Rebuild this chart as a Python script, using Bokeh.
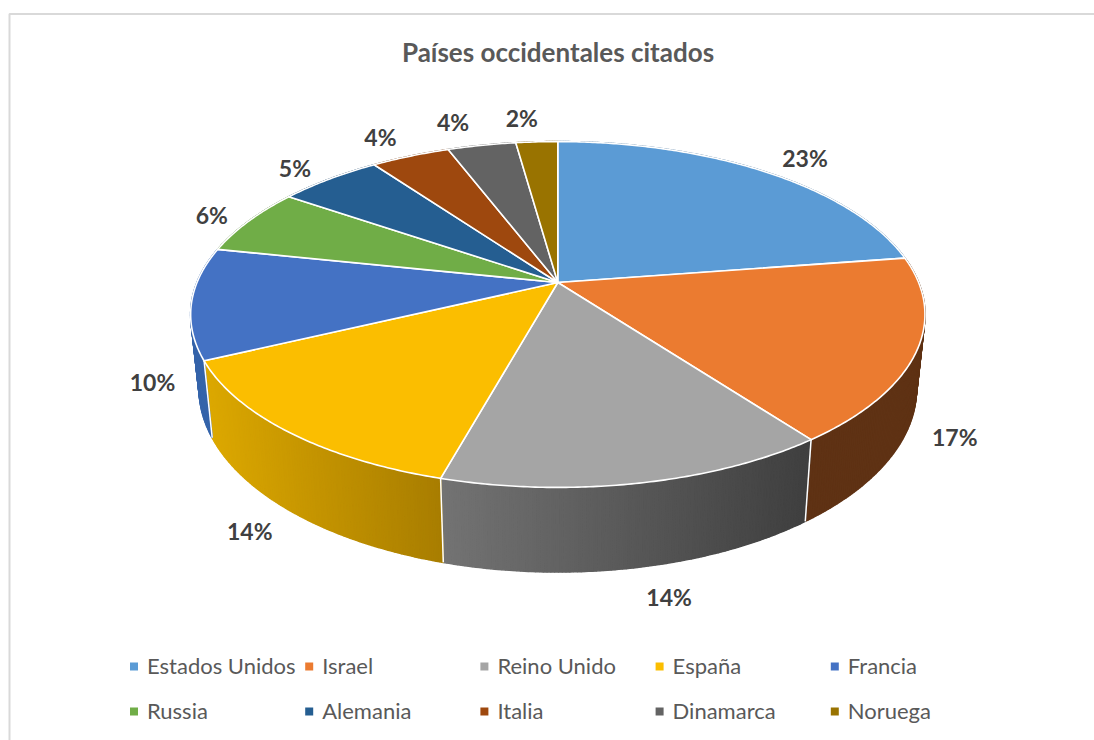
import math
from bokeh.plotting import figure
from bokeh.models import Range1d
from bokeh.core.properties import value
from bokeh.embed import file_html
from bokeh.resources import INLINE

TITLE = "Países occidentales citados"
categories = ["Estados Unidos", "Israel", "Reino Unido", "España", "Francia",
              "Russia", "Alemania", "Italia", "Dinamarca", "Noruega"]
shares = [22.6, 17.2, 14.5, 13.6, 10.4, 6.3, 5.45, 4.15, 3.6, 2.2]
labels = ["23%", "17%", "14%", "14%", "10%", "6%", "5%", "4%", "4%", "2%"]
top_colors = ["#5B9BD5", "#EB7B30", "#A5A5A5", "#FBBE00", "#4472C4",
              "#70AD47", "#255E91", "#9E480E", "#636363", "#997300"]
wall_from = ["#3c6b96", "#5f3214", "#737373", "#dcA800", "#3564aa",
             "#4e7a32", "#1a4266", "#6e320a", "#454545", "#6b5000"]
wall_to = ["#3c6b96", "#5f3214", "#3f3f3f", "#a87d00", "#3564aa",
           "#4e7a32", "#1a4266", "#6e320a", "#454545", "#6b5000"]

# label offset from the rim point at each slice's middle angle
label_offsets = [(41, -13), (38, 86), (30, 113.5), (-38, 99.5), (-39, 79),
                 (-37, -6), (-34.5, -11.5), (-30, -19.6), (-28.6, -23.7), (-15, -23.4)]

# perspective projection of the disc
CX, K = 557.3, 0.185
TOP_R, TOP_A, TOP_B = 360.8, 282.0, 167.0
LOW_R, LOW_A, LOW_B = 352.5, 354.3, 177.0


def project(theta, r, a, b):
    x, y = math.sin(theta), -math.cos(theta)
    d = 1 - K * y
    return CX + r * x / d, a + b * y / d


def top_pt(theta):
    return project(theta, TOP_R, TOP_A, TOP_B)


def low_pt(theta):
    return project(theta, LOW_R, LOW_A, LOW_B)


def lerp_hex(c1, c2, t):
    a = [int(c1[i:i + 2], 16) for i in (1, 3, 5)]
    b = [int(c2[i:i + 2], 16) for i in (1, 3, 5)]
    return "#%02x%02x%02x" % tuple(round(u + (v - u) * t) for u, v in zip(a, b))


total = sum(shares)
edges = [0.0]
for s in shares:
    edges.append(edges[-1] + s / total * 2 * math.pi)

p = figure(width=1094, height=740, output_backend="svg", toolbar_location=None,
           x_range=Range1d(0, 1094), y_range=Range1d(740, 0),
           x_axis_type=None, y_axis_type=None, min_border=0,
           outline_line_color=None, background_fill_color="white")
p.grid.visible = False

# chart frame
p.line([9, 9, 1100], [745, 13.5, 13.5], line_color="#d9d9d9", line_width=2)

# walls
for i in range(len(shares)):
    a0, a1 = edges[i], edges[i + 1]
    n = max(2, int(math.degrees(a1 - a0) * 2))
    ts = [a0 + (a1 - a0) * j / n for j in range(n + 1)]
    visible = [t for t in ts if math.pi * 0.4 <= t <= math.pi * 1.6] or ts
    xs_v = [top_pt(t)[0] for t in visible]
    xmin, xmax = min(xs_v), max(xs_v)
    xs, ys, cols = [], [], []
    for t0, t1 in zip(ts[:-1], ts[1:]):
        q = [top_pt(t0), top_pt(t1), low_pt(t1), low_pt(t0)]
        mid = top_pt((t0 + t1) / 2)[0]
        f = min(1, max(0, (mid - xmin) / (xmax - xmin or 1)))
        xs.append([c[0] for c in q])
        ys.append([c[1] for c in q])
        cols.append(lerp_hex(wall_from[i], wall_to[i], f))
    p.patches(xs, ys, fill_color=cols, line_color=cols, line_width=1.6)

# white edges between walls
for t in edges[:-1]:
    a, b = top_pt(t), low_pt(t)
    p.line([a[0], b[0]], [a[1], b[1]], line_color="white", line_width=1.5)

# top faces
for i in range(len(shares)):
    a0, a1 = edges[i], edges[i + 1]
    n = max(4, int(math.degrees(a1 - a0) * 2))
    rim = [top_pt(a0 + (a1 - a0) * j / n) for j in range(n + 1)]
    xs = [CX] + [c[0] for c in rim]
    ys = [TOP_A] + [c[1] for c in rim]
    p.patch(xs, ys, fill_color=top_colors[i], line_color="white", line_width=1.6,
            line_join="round")

# data labels
lx, ly = [], []
for i in range(len(shares)):
    c = top_pt((edges[i] + edges[i + 1]) / 2)
    lx.append(c[0] + label_offsets[i][0])
    ly.append(c[1] + label_offsets[i][1])
p.text(lx, ly, text=labels, text_font=value("Lato"), text_font_style="bold",
       text_font_size=value("23px"), text_color="#404040",
       text_align="center", text_baseline="middle")

# title
p.text([557.5], [51], text=[TITLE], text_font=value("Lato"), text_font_style="bold",
       text_font_size=value("26px"), text_color="#595959",
       text_align="center", text_baseline="middle")

# legend
for i, name in enumerate(categories):
    col, row = i % 5, i // 5
    x = 133.5 + 175.2 * col
    y = 666 + 45 * row
    p.scatter([x], [y], marker="square", size=8, fill_color=top_colors[i], line_color=None)
    p.text([x + 13], [y - 1], text=[name], text_font=value("Lato"),
           text_font_size=value("22px"), text_color="#595959",
           text_align="left", text_baseline="middle")

open("out.html", "w").write(file_html(p, INLINE))
